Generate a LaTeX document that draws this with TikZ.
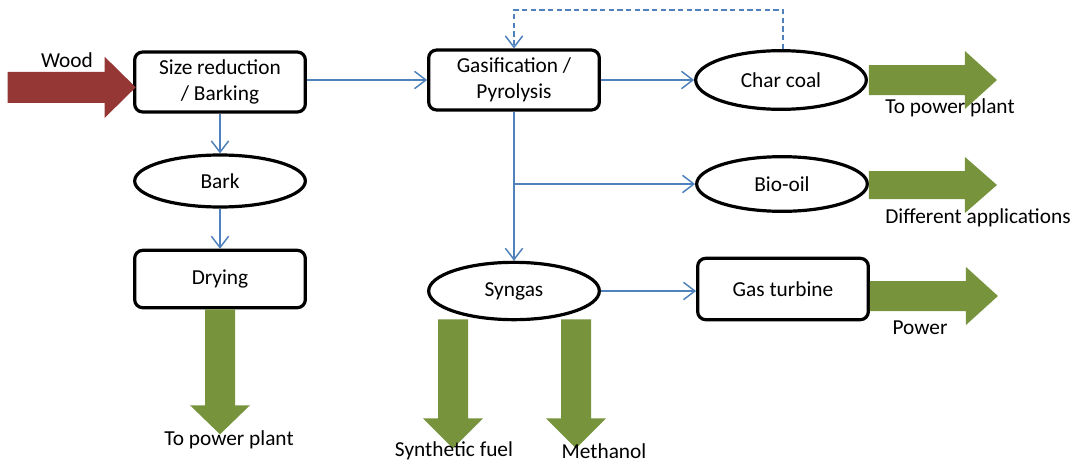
\documentclass[tikz,border=0pt]{standalone}
\usepackage{fontspec}
\setmainfont{Carlito}
\usetikzlibrary{arrows.meta,shapes.geometric}
\definecolor{flowblue}{HTML}{4F81BD}
\definecolor{leafgreen}{HTML}{77933C}
\definecolor{woodred}{HTML}{953735}
\tikzset{
  stagebox/.style={draw=black, line width=2.4pt, rounded corners=6pt, fill=white,
    minimum width=128pt, minimum height=45pt, inner sep=2pt, align=center},
  productoval/.style={draw=black, line width=2.4pt, ellipse, fill=white,
    minimum width=128pt, minimum height=41pt, inner sep=0pt, align=center},
  flow/.style={draw=flowblue, line width=1.1pt, -{Straight Barb[length=8.5pt,width=13pt,line width=1.1pt]}},
  feedback/.style={flow, dash pattern=on 4pt off 2.5pt},
  caption/.style={inner sep=0pt, align=center},
  greenarrow/.style={fill=leafgreen},
  redarrow/.style={fill=woodred}
}
\begin{document}
\begin{tikzpicture}[x=0.75pt, y=-0.75pt, font=\fontsize{16pt}{19.5pt}\selectfont]
  \useasboundingbox[fill=white] (0,0) rectangle (1077,464);

  % process steps and products
  \node[stagebox] (size) at (220,82) {Size reduction\\/ Barking};
  \node[productoval, minimum height=39pt] (bark) at (220,181) {Bark};
  \node[stagebox, minimum height=43pt] (dry) at (220,279) {Drying};
  \node[stagebox] (gas) at (514,80) {Gasification /\\Pyrolysis};
  \node[productoval, minimum height=44pt] (char) at (781,80) {Char coal};
  \node[productoval] (bio) at (782,184) {Bio-oil};
  \node[productoval, minimum height=43pt] (syn) at (514,291) {Syngas};
  \node[stagebox, minimum height=46pt] (gt) at (783,289) {Gas turbine};

  % raw material input
  \coordinate (woodtip) at ([xshift=2pt,yshift=-4pt]size.west);
  \fill[redarrow] (woodtip) -- ++(-31,-30.5) -- ++(0,15) -- ++(-97,0) -- ++(0,31)
     -- ++(97,0) -- ++(0,15) -- cycle;
  \node[caption] (woodlbl) at (67,60) {Wood};

  % internal flows
  \draw[flow] (size.east |- gas.west) -- (gas.west);
  \draw[flow] (size.south) -- (bark.north);
  \draw[flow] (bark.south) -- (dry.north);
  \draw[flow] (gas.east) -- (char.west);
  \draw[flow] (gas.south) -- (syn.north);
  \coordinate (split) at (gas.south |- bio.west);
  \draw[flow] (split) -- (bio.west);
  \draw[flow] (syn.east) -- (syn.east -| gt.west);
  \draw[feedback] ([xshift=1.5pt]char.north) -- ++(0,-39) -| (gas.north);

  % product outputs to the right
  \fill[greenarrow] (char.east) ++(1,-15) -- ++(96,0) -- ++(0,-14) -- ++(32,29)
     -- ++(-32,29) -- ++(0,-14) -- ++(-96,0) -- cycle;
  \fill[greenarrow] (bio.east) ++(0,-13) -- ++(96,0) -- ++(0,-14) -- ++(32,28)
     -- ++(-32,28) -- ++(0,-14) -- ++(-96,0) -- cycle;
  \fill[greenarrow] (gt.east) ++(0,-8) -- ++(96,0) -- ++(0,-14) -- ++(32,29)
     -- ++(-32,29) -- ++(0,-14) -- ++(-96,0) -- cycle;

  % product outputs downwards
  \fill[greenarrow] (dry.south) ++(-15,0) -- ++(0,96) -- ++(-15,0) -- ++(30,29)
     -- ++(30,-29) -- ++(-15,0) -- ++(0,-96) -- cycle;
  \fill[greenarrow] (syn.south) ++(-76,-2) -- ++(0,99) -- ++(-15,0) -- ++(30,30)
     -- ++(30,-30) -- ++(-15,0) -- ++(0,-99) -- cycle;
  \fill[greenarrow] (syn.south) ++(47,-2) -- ++(0,99) -- ++(-15,0) -- ++(30,30)
     -- ++(30,-30) -- ++(-15,0) -- ++(0,-99) -- cycle;

  % output captions
  \node[caption] (out1) at (950,108) {To power plant};
  \node[caption] (out2) at (978,218) {Different applications};
  \node[caption] (out3) at (920,328) {Power};
  \node[caption] (out4) at (229,440) {To power plant};
  \node[caption] (out5) at (454,451) {Synthetic fuel};
  \node[caption] (out6) at (604,451) {Methanol};
\end{tikzpicture}
\end{document}
